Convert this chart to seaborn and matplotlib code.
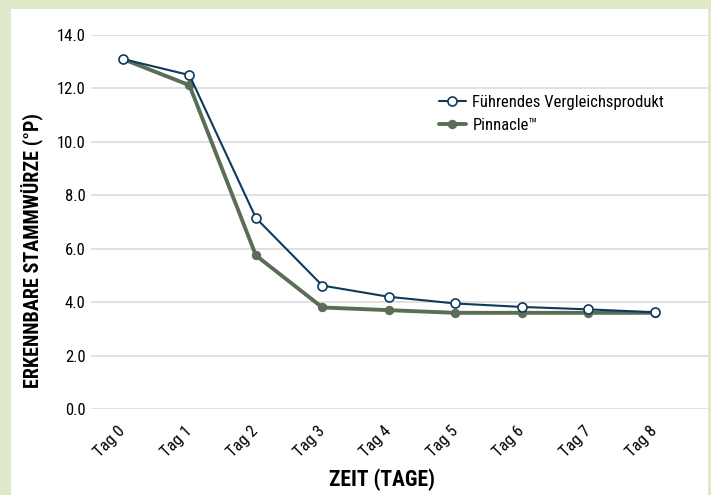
import matplotlib
matplotlib.use("Agg")
import matplotlib.pyplot as plt
import matplotlib.patches as mpatches
from matplotlib import font_manager
import seaborn as sns
import pandas as pd

# Daten
days = ["Tag 0", "Tag 1", "Tag 2", "Tag 3", "Tag 4", "Tag 5", "Tag 6", "Tag 7", "Tag 8"]
leading = [13.1, 12.5, 7.15, 4.62, 4.2, 3.95, 3.82, 3.73, 3.62]
pinnacle = [13.1, 12.12, 5.75, 3.8, 3.7, 3.6, 3.6, 3.6, 3.6]
yticks = [0, 2, 4, 6, 8, 10, 12, 14]

sns.set_style("white")
# schmale Schrift suchen, falls vorhanden
cond = [f.name for f in font_manager.fontManager.ttflist if f.stretch == "condensed"]
fam = "Roboto"
for pref in ["Roboto Condensed", "Roboto", "Noto Sans", "Open Sans", "Liberation Sans Narrow"]:
    if pref in cond:
        fam = pref
        break
else:
    if cond:
        fam = cond[0]
plt.rcParams["font.family"] = [fam, "DejaVu Sans"]
plt.rcParams["font.stretch"] = "condensed"
plt.rcParams["text.color"] = "black"
plt.rcParams["axes.labelcolor"] = "black"
plt.rcParams["xtick.color"] = "black"
plt.rcParams["ytick.color"] = "black"

df = pd.DataFrame({"x": list(range(len(days))), "leading": leading, "pinnacle": pinnacle})

fig = plt.figure(figsize=(7.11, 4.95), dpi=100)
fig.patch.set_facecolor("#dfe8c8")
fig.patches.append(mpatches.Rectangle((11 / 711, 0), 697 / 711, 486 / 495,
                                      transform=fig.transFigure, facecolor="white",
                                      edgecolor="none", zorder=-10))
ax = fig.add_axes([91 / 711, 86 / 495, 617 / 711, 374 / 495])
ax.set_facecolor("none")

navy = "#0d3a5c"
green = "#5a6e55"
sns.lineplot(data=df, x="x", y="pinnacle", ax=ax, color=green, linewidth=2.8,
             marker="o", markersize=6, markeredgecolor=green, markerfacecolor=green,
             label="Pinnacle\u2122", zorder=3)
sns.lineplot(data=df, x="x", y="leading", ax=ax, color=navy, linewidth=1.5,
             marker="o", markersize=6.5, markeredgecolor=navy, markerfacecolor="white",
             markeredgewidth=1.2, label="Führendes Vergleichsprodukt", zorder=4)

ax.set_xlim(-0.48, 8.8)
ax.set_ylim(0, 14)
ax.set_yticks(yticks)
ax.set_yticklabels([f"{v:.1f}" for v in yticks], fontsize=12)
ax.set_xticks(range(len(days)))
ax.set_xticklabels(days, rotation=45, ha="right", va="center", rotation_mode="anchor", fontsize=12)
ax.tick_params(axis="y", length=0, pad=4)
ax.tick_params(axis="x", length=0, pad=14)
ax.grid(axis="y", color="#dcdcdc", linewidth=1.2)
ax.set_axisbelow(True)
for s in ax.spines.values():
    s.set_visible(False)

ax.set_xlabel("ZEIT (TAGE)", fontsize=15.5, fontweight="bold", va="center")
ax.xaxis.set_label_coords((382 - 91) / 617, -(480 - 409) / 374)
ax.set_ylabel("ERKENNBARE STAMMWÜRZE (°P)", fontsize=14.5, fontweight="bold", va="center")
ax.yaxis.set_label_coords(-(91 - 31.5) / 617, (409 - 251) / 374)

h, l = ax.get_legend_handles_labels()
ax.legend(h[::-1], l[::-1], loc="upper left", bbox_to_anchor=(0.564, 0.84), frameon=False,
          fontsize=12, handlelength=1.6, handletextpad=0.4, labelspacing=0.5,
          borderpad=0, borderaxespad=0)

fig.savefig("out.png", dpi=100, facecolor=fig.get_facecolor())
